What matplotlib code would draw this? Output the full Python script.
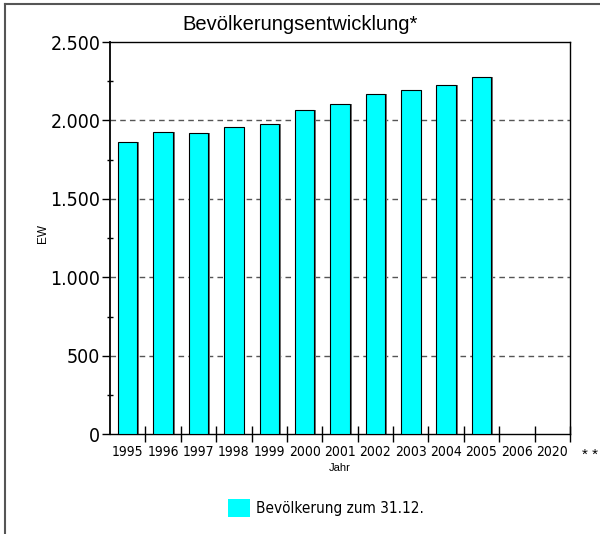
import matplotlib
matplotlib.use("Agg")
import matplotlib.pyplot as plt
from matplotlib.patches import Patch
from matplotlib.lines import Line2D
from matplotlib import font_manager

# Données
jahre = ["1995", "1996", "1997", "1998", "1999", "2000", "2001",
         "2002", "2003", "2004", "2005", "2006", "2020"]
einwohner = [1862, 1927, 1921, 1959, 1975, 2064, 2102, 2167, 2197, 2223, 2278]
y_ticks = [0, 500, 1000, 1500, 2000, 2500]
y_labels = ["0", "500", "1.000", "1.500", "2.000", "2.500"]
y_minor = [250, 750, 1250, 1750, 2250]
legende = "Bevölkerung zum 31.12."
titre = "Bevölkerungsentwicklung*"

# Police étroite : DejaVu Sans Condensed si installée
condensed = any(f.name == "DejaVu Sans" and f.stretch in ("condensed", 300)
                for f in font_manager.fontManager.ttflist)
if condensed:
    etroit = {"family": "DejaVu Sans", "stretch": "condensed"}
else:
    etroit = {"family": "Liberation Sans"}
plt.rcParams["font.family"] = ["Liberation Sans", "DejaVu Sans"]

fig = plt.figure(figsize=(6, 5.34), dpi=100)
ax = fig.add_axes([110 / 600, 1 - 434.3 / 534, 460 / 600, 392.3 / 534])

cyan = "#00ffff"
largeur = 0.55
x = list(range(len(einwohner)))

# ombre grise à droite puis barre
ax.bar([i + 0.05 for i in x], einwohner, width=largeur, color="#707070",
       edgecolor="none", zorder=2)
ax.bar(x, einwohner, width=largeur, color=cyan, edgecolor="black",
       linewidth=0.8, zorder=3)

ax.set_xlim(-0.5, len(jahre) - 0.5)
ax.set_ylim(0, 2500)

# Grille pointillée
for v in y_ticks[1:-1]:
    ax.axhline(v, color="#555555", linestyle=(0, (4, 3)), linewidth=1, zorder=1)

# Axes
for s in ["top", "right", "left", "bottom"]:
    ax.spines[s].set_color("black")
    ax.spines[s].set_linewidth(1)
ax.spines["left"].set_linewidth(1.3)

ax.set_yticks(y_ticks)
ax.set_yticklabels(y_labels, fontsize=14, **etroit)
ax.set_yticks(y_minor, minor=True)
ax.tick_params(axis="y", which="major", length=6, width=1, direction="out", pad=1)
ax.tick_params(axis="y", which="minor", length=4, width=1, direction="inout")

# Ticks X entre catégories
ax.set_xticks([i + 0.5 for i in range(len(jahre))])
ax.set_xticklabels([])
ax.tick_params(axis="x", which="major", length=12, width=1, direction="inout")
ax.set_xticks(range(len(jahre)), minor=True)
ax.set_xticklabels(jahre, minor=True, fontsize=10, **etroit)
ax.tick_params(axis="x", which="minor", length=0, pad=8)

fig.text(340 / 600, 1 - 468 / 534, "Jahr", ha="center", va="center", fontsize=8)
fig.text(590 / 600, 1 - 455 / 534, "* *", ha="center", va="center", fontsize=11)
fig.text(43 / 600, 1 - 233 / 534, "EW", ha="center", va="center",
         rotation=90, fontsize=8.5)
fig.text(300 / 600, 1 - 24 / 534, titre, ha="center", va="center", fontsize=14.5)

# Légende
fig.legend(handles=[Patch(facecolor=cyan, edgecolor="none", label=legende)],
           loc="center", bbox_to_anchor=(326 / 600, 1 - 508 / 534),
           frameon=False, handlelength=1.45, handleheight=1.45, handletextpad=0.4,
           prop=dict(size=11, **etroit))

# Cadre de la figure (gauche et haut)
fig.add_artist(Line2D([4.5 / 600, 4.5 / 600], [0, 1 - 4 / 534], color="#555555", linewidth=1.5))
fig.add_artist(Line2D([4.5 / 600, 1], [1 - 4 / 534, 1 - 4 / 534], color="#555555", linewidth=1.5))

fig.savefig("out.png", dpi=100)
plt.close()
